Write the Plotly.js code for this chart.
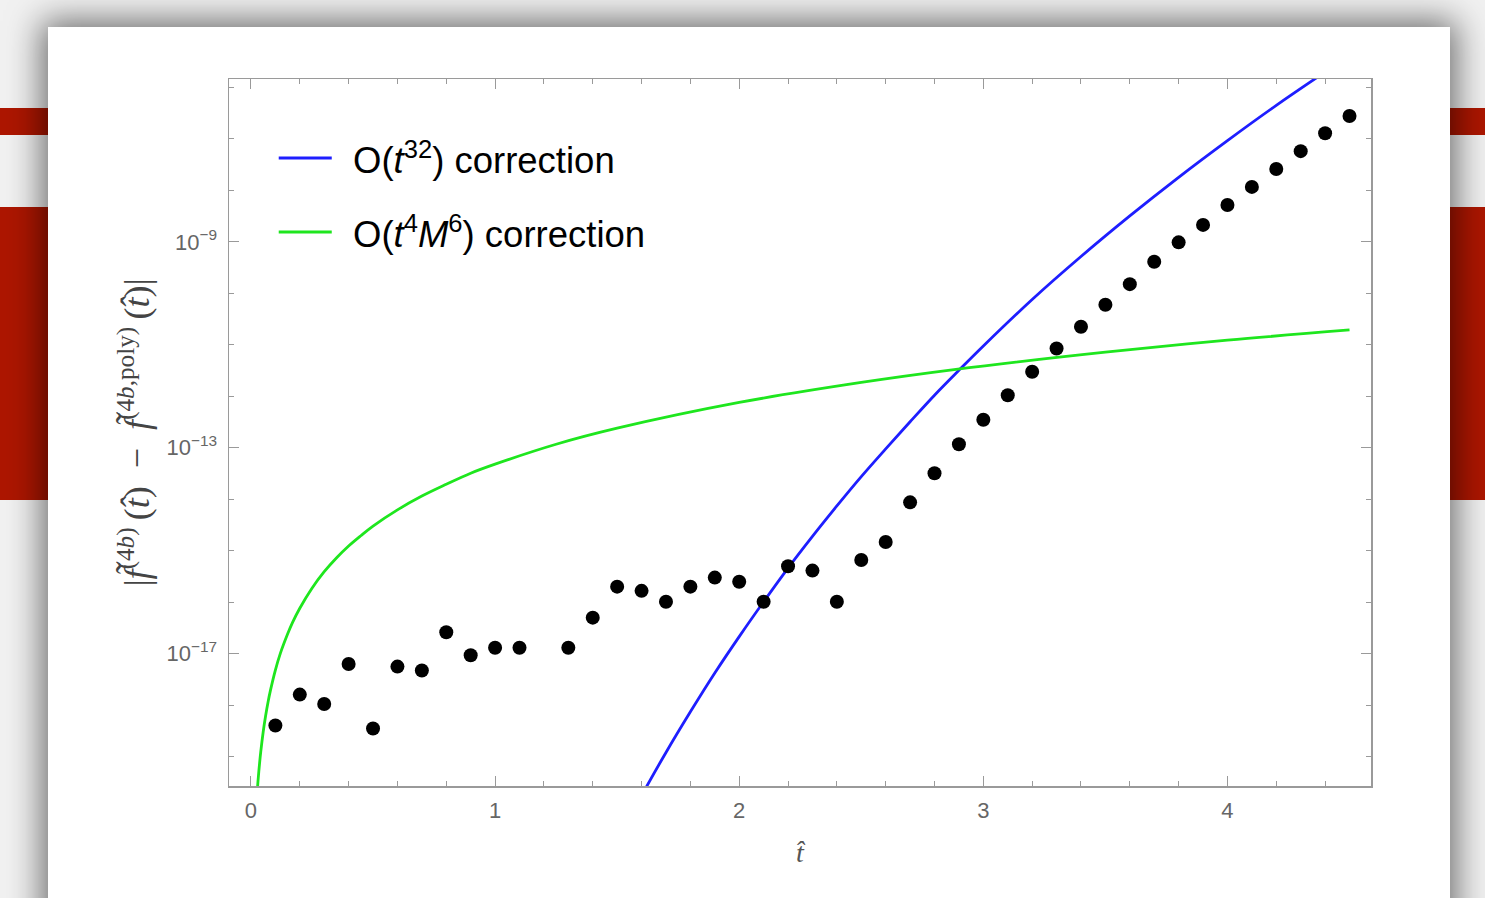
<!DOCTYPE html>
<html>
<head>
<meta charset="utf-8">
<script src="https://cdn.plot.ly/plotly-3.0.1.min.js"></script>
<style>
  html, body { margin:0; padding:0; }
  body { width:1485px; height:898px; overflow:hidden; position:relative; background:#f1f1f1; }
  .band { position:absolute; left:0; width:1485px; background:#ad1600; }
  .card { position:absolute; left:48px; top:27px; width:1402px; height:920px; background:#ffffff;
          box-shadow: 0 0 32px 6px rgba(0,0,0,0.55); }
  #chart { position:absolute; left:0; top:0; width:1485px; height:898px; }
</style>
</head>
<body>
<div class="band" style="top:108px;height:27px;"></div>
<div class="band" style="top:207px;height:293px;"></div>
<div class="card"></div>
<div id="chart"></div>
<script>
// ---- data ----
const tDots = [0.1,0.2,0.3,0.4,0.5,0.6,0.7,0.8,0.9,1.0,1.1,1.3,1.4,1.5,1.6,1.7,1.8,1.9,2.0,2.1,2.2,2.3,2.4,2.5,2.6,2.7,2.8,2.9,3.0,3.1,3.2,3.3,3.4,3.5,3.6,3.7,3.8,3.9,4.0,4.1,4.2,4.3,4.4,4.5];
const yDots = [4.0e-19,1.6e-18,1.05e-18,6.3e-18,3.5e-19,5.6e-18,4.7e-18,2.6e-17,9.3e-18,1.3e-17,1.3e-17,1.3e-17,5.0e-17,2.0e-16,1.66e-16,1.02e-16,2.0e-16,3.0e-16,2.5e-16,1.02e-16,5.0e-16,4.1e-16,1.02e-16,6.6e-16,1.48e-15,8.7e-15,3.2e-14,1.17e-13,3.5e-13,1.05e-12,3.0e-12,8.5e-12,2.24e-11,6.0e-11,1.51e-10,4.1e-10,9.8e-10,2.14e-9,5.2e-9,1.17e-8,2.6e-8,5.8e-8,1.29e-7,2.8e-7];

const tBlue = [1.58,1.6,1.7,1.8,1.9,2.0,2.1,2.2,2.3,2.4,2.5,2.6,2.7,2.8,2.9,3.0,3.2,3.4,3.6,3.8,4.0,4.2,4.4];
const yBlue = [1.15e-20,1.74e-20,1.2e-19,7.4e-19,4.2e-18,2.14e-17,1.02e-16,4.6e-16,1.9e-15,7.4e-15,2.75e-14,9.5e-14,3.2e-13,1.05e-12,3.2e-12,9.5e-12,7.6e-11,5.2e-10,3.2e-9,1.8e-8,9.3e-8,4.5e-7,2.0e-6];

const tGreen = [0.026,0.03,0.035,0.04,0.05,0.06,0.07,0.08,0.1,0.12,0.15,0.17,0.2,0.25,0.3,0.35,0.4,0.45,0.5,0.6,0.7,0.8,0.9,1.0,1.25,1.5,2.0,2.5,2.88,3.5,4.0,4.5];
const yGreen = [2.2e-20,3.9e-20,7.2e-20,1.23e-19,3.0e-19,6.2e-19,1.15e-18,1.95e-18,4.8e-18,1.0e-17,2.4e-17,4.0e-17,7.6e-17,1.86e-16,3.9e-16,7.2e-16,1.23e-15,1.95e-15,3.0e-15,6.2e-15,1.15e-14,1.95e-14,3.2e-14,4.8e-14,1.17e-13,2.4e-13,7.6e-13,1.86e-12,3.3e-12,7.2e-12,1.23e-11,1.95e-11];

const xTickVals = [0,1,2,3,4];
const xTickText = ['0','1','2','3','4'];
const yTickVals = [1e-17,1e-13,1e-9];
const yTickText = ['10<sup>\u221217</sup>','10<sup>\u221213</sup>','10<sup>\u22129</sup>'];
const yMinorVals = [1e-19,1e-18,1e-17,1e-16,1e-15,1e-14,1e-13,1e-12,1e-11,1e-10,1e-9,1e-8,1e-7,1e-6];

const seriesNames = ['O(<i>t</i><sup>32</sup>) correction', 'O(<i>t</i><sup>4</sup><i>M</i><sup>6</sup>) correction'];
const seriesColors = ['#1e1eff', '#1ee61e'];

// ---- layout geometry ----
const W = 1485, H = 898;
const L = 229.3, R = 1370.7, T = 79, B = 785.7;
const pw = R - L, ph = B - T;
const px = x => (x - L) / pw;
const py = y => (B - y) / ph;

const traces = [
  { x: tBlue, y: yBlue, mode: 'lines', name: seriesNames[0], showlegend: false,
    line: { color: seriesColors[0], width: 2.8, shape: 'spline', smoothing: 1 }, hoverinfo: 'x+y' },
  { x: tGreen, y: yGreen, mode: 'lines', name: seriesNames[1], showlegend: false,
    line: { color: seriesColors[1], width: 2.8, shape: 'spline', smoothing: 1 }, hoverinfo: 'x+y' },
  { x: tDots, y: yDots, mode: 'markers', name: 'data', showlegend: false,
    marker: { color: '#000000', size: 14 }, cliponaxis: true }
];

const axisCommon = {
  showline: true, linecolor: '#9a9a9a', linewidth: 1.5, mirror: 'ticks',
  ticks: 'inside', ticklen: 10, tickwidth: 1, tickcolor: '#9a9a9a',
  showgrid: false, zeroline: false,
  tickfont: { family: 'Liberation Sans, Arial, sans-serif', size: 22, color: '#666666' }
};

const yTitle = '|<i>f\u0303</i><sup>(4<i>b</i>)</sup>\u2009(<i>t\u0302</i>)  \u2212  <i>f\u0303</i><sup>(4<i>b</i>,poly)</sup>\u2009(<i>t\u0302</i>)|';

const layout = {
  width: W, height: H,
  margin: { l: L, r: W - R, t: T, b: H - B, pad: 0 },
  paper_bgcolor: 'rgba(0,0,0,0)', plot_bgcolor: 'rgba(0,0,0,0)',
  showlegend: false,
  xaxis: Object.assign({}, axisCommon, {
    range: [-0.090, 4.588], tickmode: 'array', tickvals: xTickVals, ticktext: xTickText,
    ticklabelstandoff: 4,
    minor: { dtick: 0.2, tick0: 0, ticks: 'inside', ticklen: 5, tickcolor: '#9a9a9a', tickwidth: 1, showgrid: false },
    title: { text: '<i>t\u0302</i>', standoff: 20,
             font: { family: 'Liberation Serif, Times New Roman, serif', size: 28, color: '#555555' } }
  }),
  yaxis: Object.assign({}, axisCommon, {
    type: 'log', range: [-19.572, -5.835], tickmode: 'array', tickvals: yTickVals, ticktext: yTickText,
    ticklabelstandoff: 6,
    minor: { tickmode: 'array', tickvals: yMinorVals, ticks: 'inside', ticklen: 5, tickcolor: '#9a9a9a', tickwidth: 1, showgrid: false },
    title: { text: yTitle, standoff: 6,
             font: { family: 'Liberation Serif, Times New Roman, serif', size: 36, color: '#444444' } }
  }),
  shapes: [
    { type: 'line', xref: 'paper', yref: 'paper', x0: px(279), x1: px(332), y0: py(158), y1: py(158),
      line: { color: seriesColors[0], width: 3 } },
    { type: 'line', xref: 'paper', yref: 'paper', x0: px(279), x1: px(332), y0: py(232), y1: py(232),
      line: { color: seriesColors[1], width: 3 } }
  ],
  annotations: [
    { xref: 'paper', yref: 'paper', x: px(351), y: py(158), xanchor: 'left', yanchor: 'middle', showarrow: false,
      text: seriesNames[0], font: { family: 'Liberation Sans, Arial, sans-serif', size: 36.5, color: '#000000' } },
    { xref: 'paper', yref: 'paper', x: px(351), y: py(232), xanchor: 'left', yanchor: 'middle', showarrow: false,
      text: seriesNames[1], font: { family: 'Liberation Sans, Arial, sans-serif', size: 36.5, color: '#000000' } }
  ]
};

Plotly.newPlot('chart', traces, layout, { staticPlot: true, displayModeBar: false });
</script>
</body>
</html>
